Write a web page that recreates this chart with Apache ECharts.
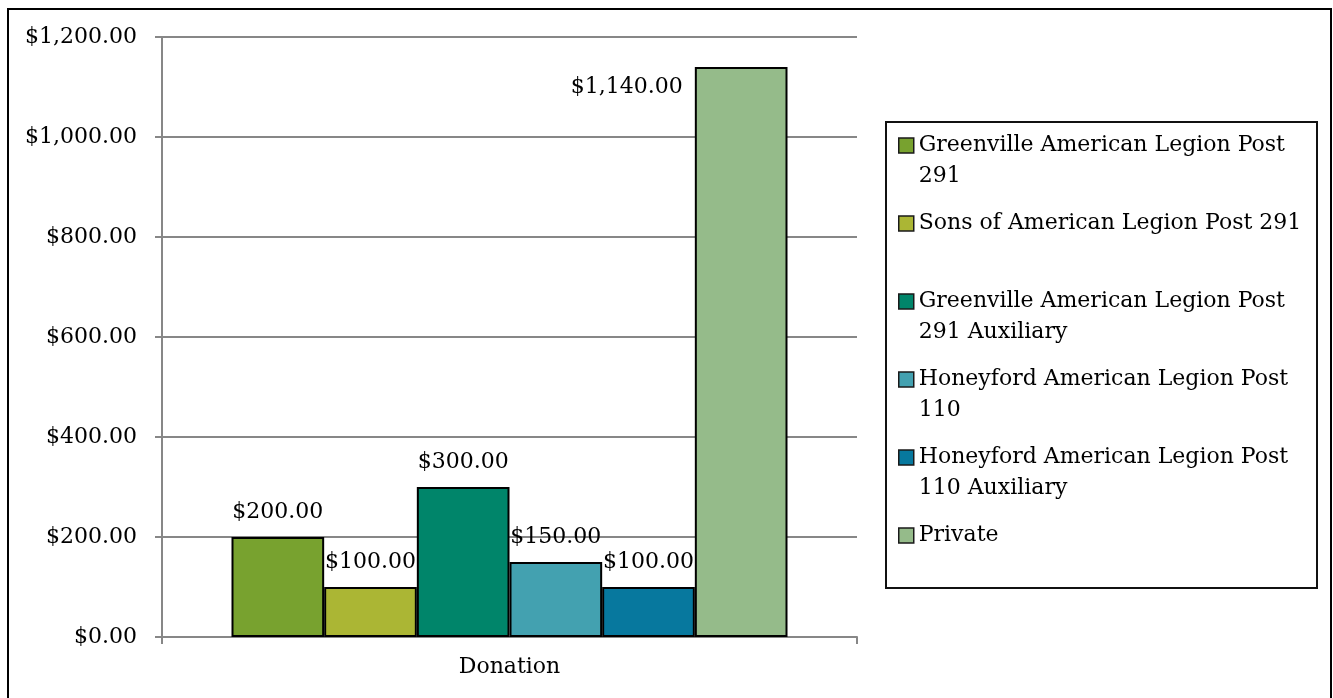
<!DOCTYPE html>
<html>
<head>
<meta charset="utf-8">
<script src="https://cdn.jsdelivr.net/npm/echarts@6/dist/echarts.min.js"></script>
<style>
html,body{margin:0;padding:0;background:#fff;}
#chart{width:1333px;height:698px;}
</style>
</head>
<body>
<div id="chart"></div>
<script>
const categories = ['Donation'];
const seriesNames = [
  'Greenville American Legion Post 291',
  'Sons of American Legion Post 291',
  'Greenville American Legion Post 291 Auxiliary',
  'Honeyford American Legion Post 110',
  'Honeyford American Legion Post 110 Auxiliary',
  'Private'
];
const legendLines = [
  ['Greenville American Legion Post', '291'],
  ['Sons of American Legion Post 291'],
  ['Greenville American Legion Post', '291 Auxiliary'],
  ['Honeyford American Legion Post', '110'],
  ['Honeyford American Legion Post', '110 Auxiliary'],
  ['Private']
];
const seriesValues = [200, 100, 300, 150, 100, 1140];
const seriesColors = ['#78A22F', '#ABB634', '#00856A', '#43A1B0', '#07789E', '#95BB8A'];
const yMin = 0, yMax = 1200, yStep = 200;

const FONT = 'DejaVu Serif';
function money(v) {
  const s = Number(v).toFixed(2);
  const parts = s.split('.');
  parts[0] = parts[0].replace(/\B(?=(\d{3})+(?!\d))/g, ',');
  return '$' + parts.join('.');
}

const chart = echarts.init(document.getElementById('chart'), null, {renderer: 'canvas'});

const series = seriesNames.map((name, i) => {
  const isLast = i === seriesNames.length - 1;
  return {
    type: 'bar',
    name: name,
    data: [seriesValues[i]],
    barGap: '0%',
    barCategoryGap: '20%',
    itemStyle: {color: seriesColors[i], borderColor: '#000', borderWidth: 2},
    label: isLast ? {
      show: true,
      position: [-12, 20],
      align: 'right',
      verticalAlign: 'middle',
      formatter: p => money(p.value),
      fontFamily: FONT, fontSize: 22, color: '#000'
    } : {
      show: true,
      position: 'top',
      distance: 14,
      formatter: p => money(p.value),
      fontFamily: FONT, fontSize: 22, color: '#000'
    },
    emphasis: {disabled: true}
  };
});

const option = {
  animation: false,
  backgroundColor: '#fff',
  textStyle: {fontFamily: FONT},
  grid: {left: 162, top: 37, width: 695, height: 600},
  xAxis: {
    type: 'category',
    data: categories,
    axisLine: {show: true, lineStyle: {color: '#878787', width: 2}},
    axisTick: {show: true, length: 7, lineStyle: {color: '#878787', width: 2}},
    axisLabel: {fontFamily: FONT, fontSize: 22, color: '#000', margin: 19},
    splitLine: {show: false}
  },
  yAxis: {
    type: 'value',
    min: yMin, max: yMax, interval: yStep,
    axisLine: {show: true, lineStyle: {color: '#878787', width: 2}},
    axisTick: {show: true, length: 7, lineStyle: {color: '#878787', width: 2}},
    axisLabel: {fontFamily: FONT, fontSize: 22, color: '#000', margin: 25, formatter: v => money(v)},
    splitLine: {show: true, lineStyle: {color: '#878787', width: 2}}
  },
  legend: {
    orient: 'vertical',
    left: 898,
    top: 99,
    padding: 0,
    itemGap: -15,
    itemWidth: 15,
    itemHeight: 15,
    icon: 'rect',
    selectedMode: false,
    itemStyle: {borderColor: '#1a1a1a', borderWidth: 1.5},
    textStyle: {fontFamily: FONT, fontSize: 22, color: '#000', lineHeight: 31},
    data: seriesNames,
    formatter: name => {
      const lines = legendLines[seriesNames.indexOf(name)].slice();
      while (lines.length < 2) lines.push('\u00a0');
      return ['\u00a0'].concat(lines).join('\n');
    }
  },
  graphic: [
    {type: 'rect', silent: true, shape: {x: 886, y: 122, width: 431, height: 466},
     style: {fill: 'none', stroke: '#111', lineWidth: 2}},
    {type: 'rect', silent: true, shape: {x: 8, y: 9, width: 1323, height: 720},
     style: {fill: 'none', stroke: '#000', lineWidth: 2}}
  ],
  series: series
};
chart.setOption(option);
</script>
</body>
</html>
